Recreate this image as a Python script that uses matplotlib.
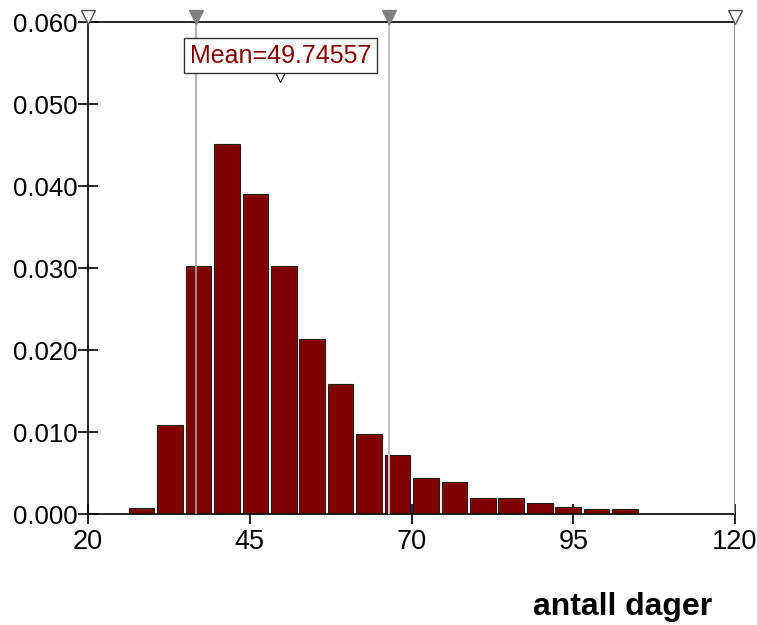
import matplotlib
matplotlib.use("Agg")
import matplotlib.pyplot as plt
import numpy as np

plt.rcParams['font.family'] = ['Liberation Sans', 'DejaVu Sans']

# histogram data (density per bin)
bin_start = 26.1
bin_width = 4.394
densities = [0.00077, 0.01085, 0.03028, 0.04509, 0.03899, 0.03028, 0.02138,
             0.01585, 0.00979, 0.00720, 0.00435, 0.00394, 0.00191, 0.00191,
             0.00130, 0.00085, 0.00057, 0.00057]

mean_value = 49.74557
low_mark = 36.74
high_mark = 66.46
x_min, x_max = 20, 120
x_ticks = [20, 45, 70, 95, 120]
y_ticks = [0.000, 0.010, 0.020, 0.030, 0.040, 0.050, 0.060]
x_label = 'antall dager'

bar_color = '#800000'

fig = plt.figure(figsize=(7.57, 6.25), dpi=100)
ax = fig.add_axes([0.1162, 0.1776, 0.9710 - 0.1162, 0.9648 - 0.1776])

centers = bin_start + bin_width * (np.arange(len(densities)) + 0.5)
ax.bar(centers, densities, width=bin_width * 0.9, color=bar_color,
       edgecolor='#1a1a1a', linewidth=0.8, zorder=2)

ax.set_xlim(x_min, x_max)
ax.set_ylim(0, 0.060)
ax.set_xticks(x_ticks)
ax.set_yticks(y_ticks)
ax.set_yticklabels([f'{v:.3f}' for v in y_ticks])
ax.tick_params(axis='y', direction='inout', length=15, width=1.2, labelsize=18.5, pad=0)
ax.tick_params(axis='x', direction='inout', length=15, width=1.2, labelsize=19.5, pad=3)

for side in ['left', 'bottom', 'top']:
    ax.spines[side].set_linewidth(1.2)
    ax.spines[side].set_color('black')
ax.spines['right'].set_visible(False)

# delimiter lines
ax.axvline(low_mark, color='#a6a6a6', linewidth=1.2, zorder=3)
ax.axvline(high_mark, color='#c4c4c4', linewidth=1.5, zorder=3)
ax.axvline(x_max, color='#8c8c8c', linewidth=1.5, zorder=3)

# triangle markers along the top
top_y = 0.0606
ax.plot([x_min, x_max], [top_y, top_y], linestyle='none', marker='v',
        markersize=10, markerfacecolor='white', markeredgecolor='#555555',
        markeredgewidth=1.0, clip_on=False, zorder=5)
ax.plot([low_mark, high_mark], [top_y, top_y], linestyle='none', marker='v',
        markersize=10, markerfacecolor='#808080', markeredgecolor='#808080',
        clip_on=False, zorder=5)

# mean label and marker
ax.plot([mean_value], [0.0534], linestyle='none', marker='v', markersize=8,
        markerfacecolor='white', markeredgecolor='black', markeredgewidth=0.8,
        zorder=6)
ax.text(mean_value, 0.0559, f'Mean={mean_value:.5f}', color=bar_color,
        fontsize=18, ha='center', va='center', zorder=7,
        bbox=dict(boxstyle='square,pad=0.22', facecolor='white',
                  edgecolor='#333333', linewidth=1.0))

fig.text(0.822, 0.028, x_label, fontsize=23, fontweight='bold',
         ha='center', va='center')

fig.savefig('out.png', dpi=100, facecolor='white')
